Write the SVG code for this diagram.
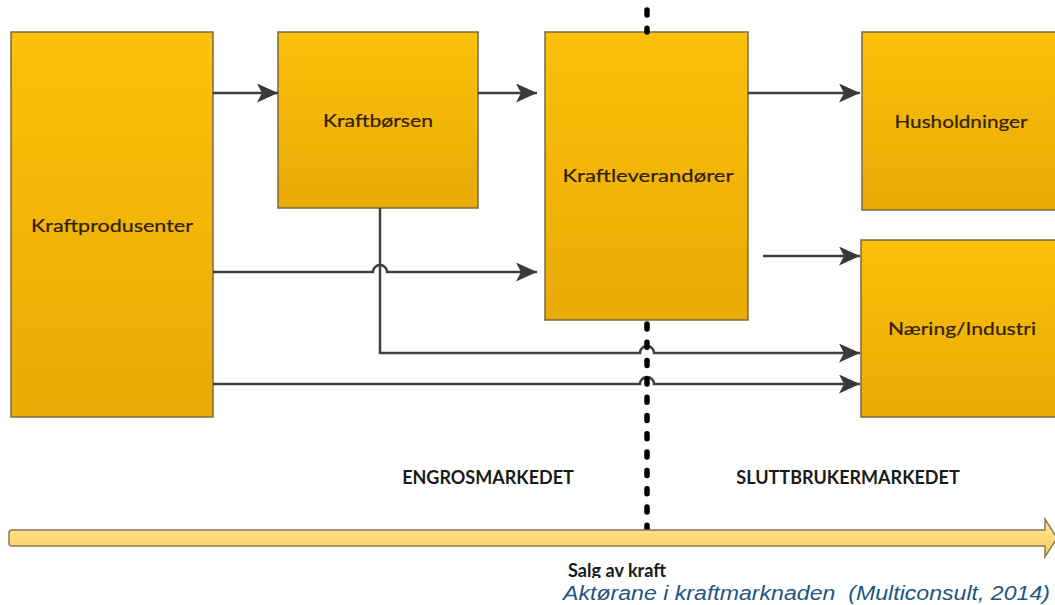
<svg xmlns="http://www.w3.org/2000/svg" width="1055" height="605" viewBox="0 0 1055 605">
<defs>
<linearGradient id="gBox" x1="0" y1="0" x2="0" y2="1">
<stop offset="0" stop-color="#FDC00A"/>
<stop offset="1" stop-color="#E8AA04"/>
</linearGradient>
<linearGradient id="gArrow" x1="0" y1="0" x2="0" y2="1">
<stop offset="0" stop-color="#FEE9A0"/>
<stop offset="0.5" stop-color="#FDDB78"/>
<stop offset="1" stop-color="#F6CD60"/>
</linearGradient>
<marker id="ah" markerWidth="21" markerHeight="19" refX="21" refY="9.5" orient="auto" markerUnits="userSpaceOnUse">
<path d="M0,0 L21,9.5 L0,19 L5,9.5 Z" fill="#3A3A3A"/>
</marker>
<clipPath id="clipSalg"><rect x="0" y="0" width="1055" height="578"/></clipPath>
</defs>
<style>
.box{fill:url(#gBox);stroke:#7A6A45;stroke-width:1.5}
.lbl{font-family:"Lato","Open Sans",sans-serif;font-size:18px;fill:#2E1E04;stroke:#2E1E04;stroke-width:0.2;text-anchor:middle}
.mk{font-family:"Lato","Open Sans",sans-serif;font-size:18px;font-weight:bold;fill:#1A1A1A;text-anchor:middle}
.con{fill:none;stroke:#404040;stroke-width:2.5}
.dot{fill:none;stroke:#000;stroke-width:5.5;stroke-linecap:round;stroke-dasharray:5 13.3}
</style>
<rect width="1055" height="605" fill="#fff"/>

<g id="node-kraftprodusenter">
<rect class="box" x="11" y="32" width="202" height="385"/>
<text class="lbl" x="112" y="232" textLength="162" lengthAdjust="spacingAndGlyphs">Kraftprodusenter</text>
</g>
<g id="node-kraftborsen">
<rect class="box" x="278" y="32" width="200" height="176"/>
<text class="lbl" x="378" y="127" textLength="110" lengthAdjust="spacingAndGlyphs">Kraftbørsen</text>
</g>
<g id="node-kraftleverandorer">
<rect class="box" x="545" y="32" width="203" height="288"/>
<text class="lbl" x="648" y="182" textLength="171" lengthAdjust="spacingAndGlyphs">Kraftleverandører</text>
</g>
<g id="node-husholdninger">
<rect class="box" x="862" y="32" width="200" height="178"/>
<text class="lbl" x="961" y="128" textLength="133" lengthAdjust="spacingAndGlyphs">Husholdninger</text>
</g>
<g id="node-naering">
<rect class="box" x="861" y="240" width="200" height="177"/>
<text class="lbl" x="962" y="335" textLength="148" lengthAdjust="spacingAndGlyphs">Næring/Industri</text>
</g>

<g id="connectors">
<path class="con" d="M213,93 H278" marker-end="url(#ah)"/>
<path class="con" d="M478,93 H537" marker-end="url(#ah)"/>
<path class="con" d="M748,93 H860" marker-end="url(#ah)"/>
<path class="con" d="M213,272 H373 A7,7 0 0 1 387,272 H537" marker-end="url(#ah)"/>
<path class="con" d="M380,208 V353 H640 A7,7 0 0 1 654,353 H860" marker-end="url(#ah)"/>
<path class="con" d="M213,384 H640 A7,7 0 0 1 654,384 H860" marker-end="url(#ah)"/>
<path class="con" d="M763,256 H860" marker-end="url(#ah)"/>
</g>

<g id="divider">
<path class="dot" d="M647,10 V32"/>
<path class="dot" d="M647,324 V530"/>
</g>

<g id="sales-arrow">
<path d="M12,530 H1045 V519 L1057,538 L1045,557 V546 H12 Q9,546 9,543 V533 Q9,530 12,530 Z" fill="url(#gArrow)" stroke="#8A7A55" stroke-width="1.5"/>
</g>

<text class="mk" x="488" y="484">ENGROSMARKEDET</text>
<text class="mk" x="848" y="484">SLUTTBRUKERMARKEDET</text>
<text class="mk" x="617" y="577" clip-path="url(#clipSalg)" textLength="98" lengthAdjust="spacingAndGlyphs">Salg av kraft</text>
<text x="563" y="600" xml:space="preserve" font-family="Liberation Sans, Arial, sans-serif" font-style="italic" font-size="20" fill="#1F5680" textLength="487" lengthAdjust="spacingAndGlyphs">Aktørane i kraftmarknaden  (Multiconsult, 2014)</text>
</svg>
